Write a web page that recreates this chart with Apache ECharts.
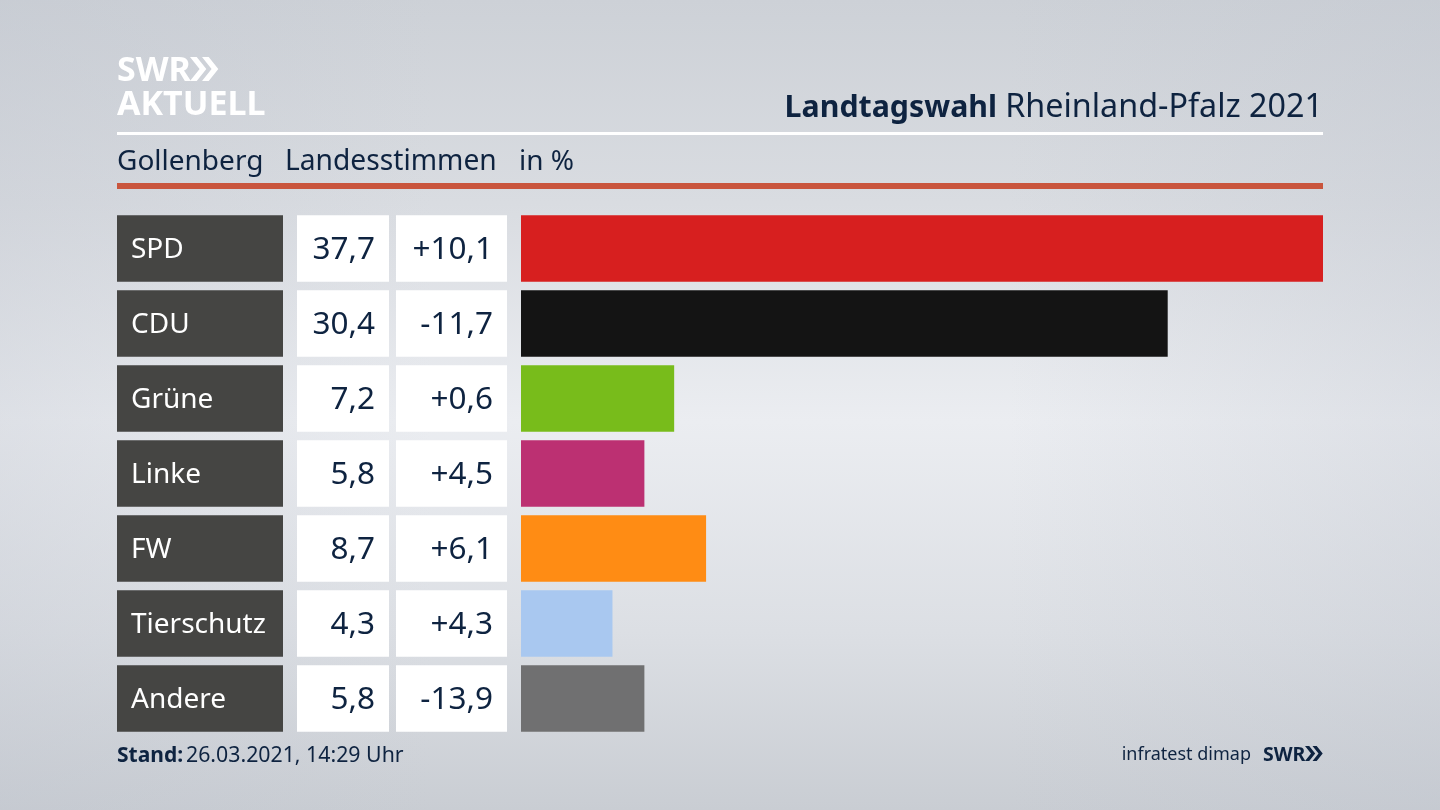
<!DOCTYPE html>
<html style="height: 100%">
 <head>
  <meta charset="utf-8" />
  <script src="https://cdn.jsdelivr.net/npm/echarts@6/dist/echarts.min.js"></script>
 </head>
 <body style="height: 100%; margin: 0">
  <div id="main" style="width:1440px;height:810px;"></div>
  <script type="text/javascript">
   var parties = ['SPD', 'CDU', 'Grüne', 'Linke', 'FW', 'Tierschutz', 'Andere'];
   var shares = [37.7, 30.4, 7.2, 5.8, 8.7, 4.3, 5.8];
   var changes = [10.1, -11.7, 0.6, 4.5, 6.1, 4.3, -13.9];
   var partyColors = ['#d71f1f', '#141414', '#78bc1b', '#bc3072', '#ff8c14', '#a9c8f0', '#707071'];

   var font = '"Noto Sans", sans-serif';
   var navy = '#0e2340';

   function fmt(v) {
     return v.toFixed(1).replace('.', ',');
   }
   function fmtChange(v) {
     return (v > 0 ? '+' : '') + fmt(v);
   }

   // one grid per column, all on the same row bands
   var columns = [
     { left: 117, width: 166 },
     { left: 297, width: 92 },
     { left: 396, width: 111 },
     { left: 521, width: 802 }
   ];
   var grids = [], xAxes = [], yAxes = [];
   columns.forEach(function(c, i) {
     grids.push({ left: c.left, width: c.width, top: 211, height: 525 });
     xAxes.push({ gridIndex: i, type: 'value', min: 0, max: i == 3 ? 37.7 : 1, show: false });
     yAxes.push({ gridIndex: i, type: 'category', inverse: true, data: parties, show: false });
   });

   function cellSeries(idx, color, textColor, pos, texts) {
     return {
       type: 'bar',
       xAxisIndex: idx,
       yAxisIndex: idx,
       barWidth: 66.5,
       silent: true,
       data: parties.map(function() { return 1; }),
       itemStyle: { color: color },
       label: {
         show: true,
         position: pos,
         distance: 14,
         offset: [0, 2],
         color: textColor,
         fontFamily: font,
         fontSize: pos == 'insideLeft' ? 28 : 31.5,
         formatter: function(p) { return texts[p.dataIndex]; }
       }
     };
   }

   function txt(x, y, text, size, weight, color, align) {
     return {
       type: 'text',
       x: x,
       y: y,
       z: 5,
       style: {
         text: text,
         fontFamily: font,
         fontSize: size,
         fontWeight: weight || 'normal',
         fill: color || navy,
         align: align || 'left',
         verticalAlign: 'middle'
       }
     };
   }
   function chevrons(x, y, h, color) {
     var t = h * 0.28, tip = h * 0.4, out = [];
     [0, h * 0.5].forEach(function(dx) {
       out.push({
         type: 'polygon',
         z: 5,
         shape: { points: [
           [x + dx, y], [x + dx + t, y], [x + dx + t + tip, y + h / 2],
           [x + dx + t, y + h], [x + dx, y + h], [x + dx + tip, y + h / 2]
         ] },
         style: { fill: color }
       });
     });
     return out;
   }

   var graphics = [
     // side falloff on top of the vertical background gradient
     {
       type: 'rect',
       z: -1,
       shape: { x: 0, y: 0, width: 1440, height: 810 },
       style: {
         fill: {
           type: 'linear', x: 0, y: 0, x2: 1, y2: 0,
           colorStops: [
             { offset: 0, color: 'rgba(190,195,205,0.3)' },
             { offset: 0.3, color: 'rgba(190,195,205,0)' },
             { offset: 0.7, color: 'rgba(190,195,205,0)' },
             { offset: 1, color: 'rgba(190,195,205,0.3)' }
           ]
         }
       }
     },
     { type: 'rect', z: 5, shape: { x: 117, y: 132, width: 1206, height: 3 }, style: { fill: '#ffffff' } },
     { type: 'rect', z: 5, shape: { x: 117, y: 183, width: 1206, height: 6 }, style: { fill: '#c9553d' } },
     txt(117, 71, 'SWR', 34, 'bold', '#ffffff'),
     txt(117, 105, 'AKTUELL', 34, 'bold', '#ffffff'),
     txt(997, 108, 'Landtagswahl', 30.3, 'bold', navy, 'right'),
     txt(1323, 108, 'Rheinland-Pfalz 2021', 32.3, 'normal', navy, 'right'),
     txt(117, 162, 'Gollenberg', 28),
     txt(285, 162, 'Landesstimmen', 28.2),
     txt(519, 162, 'in %', 28),
     txt(117, 756, 'Stand:', 21, 'bold'),
     txt(186, 756, '26.03.2021, 14:29 Uhr', 21.3),
     txt(1251, 755, 'infratest dimap', 18, 'normal', navy, 'right'),
     txt(1263, 755, 'SWR', 19.5, 'bold')
   ].concat(chevrons(190, 57, 24, '#ffffff'), chevrons(1305, 746, 15, navy));

   var myChart = echarts.init(document.getElementById('main'));
   var option = {
     animation: false,
     backgroundColor: {
       type: 'linear', x: 0, y: 0, x2: 0, y2: 1,
       colorStops: [
         { offset: 0, color: '#cdd1d7' },
         { offset: 0.25, color: '#d9dce1' },
         { offset: 0.52, color: '#ebedf1' },
         { offset: 0.78, color: '#dcdfe4' },
         { offset: 1, color: '#c9cdd3' }
       ]
     },
     grid: grids,
     xAxis: xAxes,
     yAxis: yAxes,
     graphic: graphics,
     series: [
       cellSeries(0, '#454543', '#ffffff', 'insideLeft', parties),
       cellSeries(1, '#ffffff', navy, 'insideRight', shares.map(fmt)),
       cellSeries(2, '#ffffff', navy, 'insideRight', changes.map(fmtChange)),
       {
         type: 'bar',
         xAxisIndex: 3,
         yAxisIndex: 3,
         barWidth: 66.5,
         data: shares.map(function(v, i) {
           return { value: v, itemStyle: { color: partyColors[i] } };
         })
       }
     ]
   };
   myChart.setOption(option);
  </script>
 </body>
</html>
